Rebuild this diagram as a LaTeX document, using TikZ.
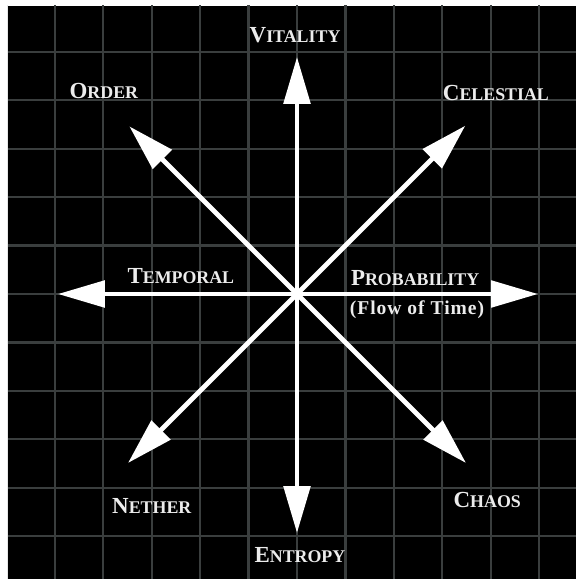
\documentclass[tikz,border=0pt]{standalone}
\usepackage{fontspec}
\setmainfont{Liberation Serif}
\newfontfamily\flowfont[LetterSpace=5]{Liberation Serif}
\usetikzlibrary{arrows.meta,positioning}
\newcommand{\capword}[2]{{\fontsize{13.5}{14}\selectfont #1}{\fontsize{10.5}{12}\selectfont #2}}
\definecolor{gridgray}{RGB}{58,62,62}
\definecolor{labelwhite}{RGB}{236,236,236}

\begin{document}
\begin{tikzpicture}[
    grid/.style={draw=gridgray, line width=1.3pt},
    axis/.style={draw=white, line width=2.9pt, line cap=round, -{Triangle[length=0.97cm, width=0.54cm]}},
    lbl/.style={text=labelwhite, font=\bfseries, inner sep=1pt}
]
\useasboundingbox (-6.136,-5.888) rectangle (5.764,6.074);
\fill[black] (-5.971,-5.888) rectangle (5.764,5.95);
\begin{scope}
  \clip (-5.971,-5.888) rectangle (5.764,5.95);
  \draw[grid] (-6,-6) grid (6,6);
\end{scope}

\coordinate (o) at (0,0);
\coordinate (vit) at (90:4.9);
\coordinate (ent) at (270:4.94);
\coordinate (tem) at (180:4.94);
\coordinate (pro) at (0:4.98);
\coordinate (ord) at (135:4.9);
\coordinate (cel) at (45:4.92);
\coordinate (net) at (225:4.94);
\coordinate (cha) at (-45:4.94);

\draw[axis] (o) -- (vit);
\draw[axis] (o) -- (ent);
\draw[axis] (o) -- (tem);
\draw[axis] (o) -- (pro);
\draw[axis] (o) -- (ord);
\draw[axis] (o) -- (cel);
\draw[axis] (o) -- (net);
\draw[axis] (o) -- (cha);

\node[lbl] (vitl) at (-0.04,5.35) {\capword{V}{ITALITY}};
\node[lbl] (ordl) at (-3.99,4.19) {\capword{O}{RDER}};
\node[lbl] (cell) at (4.11,4.15) {\capword{C}{ELESTIAL}};
\node[lbl] (teml) at (-2.40,0.37) {\capword{T}{EMPORAL}};
\node[lbl] (prol) at (2.44,0.33) {\capword{P}{ROBABILITY}};
\node[lbl, font=\bfseries\flowfont\fontsize{11.5}{13}\selectfont] (flow) at (2.48,-0.33) {(Flow of Time)};
\node[lbl] (netl) at (-3.00,-4.38) {\capword{N}{ETHER}};
\node[lbl] (entl) at (0.06,-5.39) {\capword{E}{NTROPY}};
\node[lbl] (chal) at (3.93,-4.26) {\capword{C}{HAOS}};
\end{tikzpicture}
\end{document}
